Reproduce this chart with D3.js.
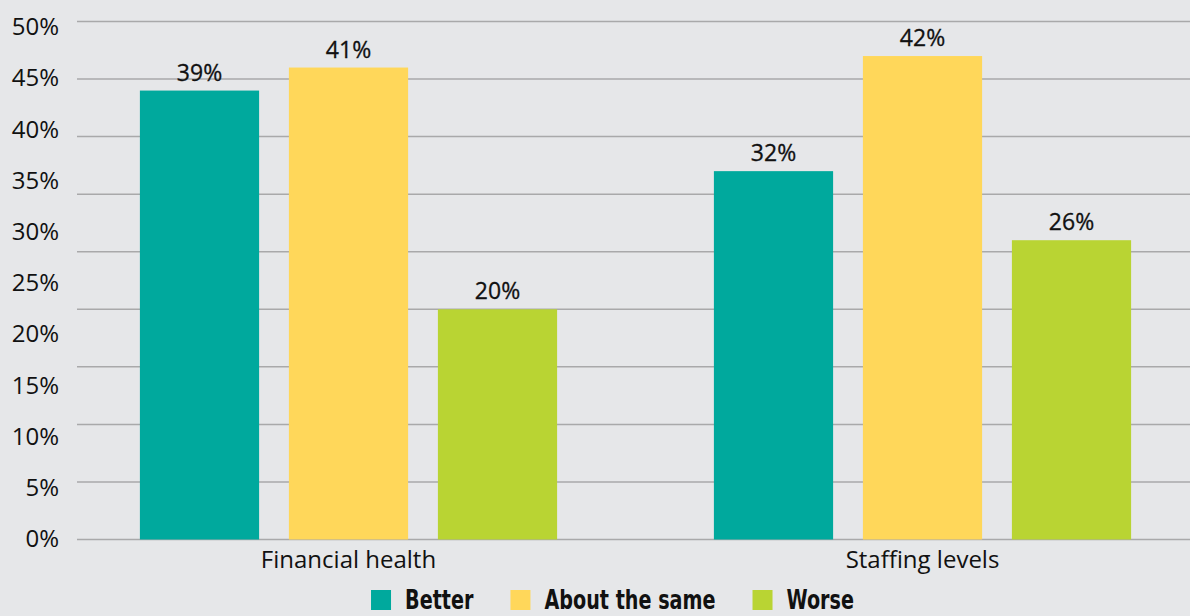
<!DOCTYPE html>
<html>
<head>
<meta charset="utf-8">
<script src="https://cdn.jsdelivr.net/npm/d3@7"></script>
<style>
  html, body { margin: 0; padding: 0; background: #e6e7e9; }
  svg { display: block; }
</style>
</head>
<body>
<svg id="chart" width="1190" height="616"></svg>
<script>
// Survey results: share of respondents by outlook
const categories = ["Financial health", "Staffing levels"];
const seriesNames = ["Better", "About the same", "Worse"];
const better = [39, 32];          // Financial health, Staffing levels
const aboutSame = [41, 42];
const worse = [20, 26];
const tickLabels = ["0%", "5%", "10%", "15%", "20%", "25%", "30%", "35%", "40%", "45%", "50%"];
const gridValues = [0, 5, 10, 15, 20, 25, 30, 35, 40, 45];
const colors = ["#00a99d", "#ffd75a", "#b9d433"];

const seriesValues = [better, aboutSame, worse];

const W = 1190, H = 616;
const svg = d3.select("#chart");

svg.append("rect").attr("width", W).attr("height", H).attr("fill", "#e6e7e9");

// Bar value scale and gridlines
const y = d3.scaleLinear().domain([0, 45]).range([539.5, 21.5]);
// Column of percentage labels on the left
const yLabel = d3.scaleLinear().domain([0, 50]).range([539, 26.7]);

const x0 = d3.scaleBand().domain(categories).range([61.5, 1209.5]);
const x1 = d3.scaleBand().domain(seriesNames)
  .range([-223.5, 223.5]).paddingInner(0.2).paddingOuter(0.1);

// Gridlines
svg.append("g").selectAll("line")
  .data(gridValues)
  .join("line")
  .attr("x1", 77).attr("x2", W)
  .attr("y1", d => y(d)).attr("y2", d => y(d))
  .attr("stroke", "#a9a9aa").attr("stroke-width", 1.5);

// Left labels
svg.append("g").selectAll("text")
  .data(tickLabels)
  .join("text")
  .attr("x", 59)
  .attr("y", (d, i) => yLabel(i * 5))
  .attr("dy", "0.35em")
  .attr("text-anchor", "end")
  .attr("font-family", "'Open Sans', 'Noto Sans', sans-serif")
  .attr("font-size", 24)
  .attr("fill", "#111")
  .text(d => d);

// Bars
const rows = [];
categories.forEach((c, ci) => {
  seriesNames.forEach((s, si) => {
    rows.push({ cat: c, series: s, value: seriesValues[si][ci], color: colors[si] });
  });
});

const gBars = svg.append("g");
gBars.selectAll("rect")
  .data(rows)
  .join("rect")
  .attr("x", d => x0(d.cat) + x0.bandwidth() / 2 + x1(d.series))
  .attr("width", x1.bandwidth())
  .attr("y", d => y(d.value))
  .attr("height", d => y(0) - y(d.value))
  .attr("fill", d => d.color);

// Value labels (medium weight via a thin outline)
gBars.selectAll("text")
  .data(rows)
  .join("text")
  .attr("x", d => x0(d.cat) + x0.bandwidth() / 2 + x1(d.series) + x1.bandwidth() / 2)
  .attr("y", d => y(d.value) - 10)
  .attr("text-anchor", "middle")
  .attr("font-family", "'Open Sans', 'Noto Sans', sans-serif")
  .attr("font-size", 23)
  .attr("fill", "#111")
  .attr("stroke", "#111")
  .attr("stroke-width", 0.3)
  .text(d => d.value + "%");

// Category labels
svg.append("g").selectAll("text")
  .data(categories)
  .join("text")
  .attr("x", d => x0(d) + x0.bandwidth() / 2)
  .attr("y", 568)
  .attr("text-anchor", "middle")
  .attr("font-family", "'Open Sans', 'Noto Sans', sans-serif")
  .attr("font-size", 24)
  .attr("fill", "#111")
  .text(d => d);

// Legend: swatch + condensed bold label
const squeeze = 0.82;
const legend = svg.append("g");
const items = legend.selectAll("g")
  .data(seriesNames)
  .join("g");
items.append("rect")
  .attr("width", 20).attr("height", 20)
  .attr("y", 590)
  .attr("fill", (d, i) => colors[i]);
items.append("text")
  .attr("transform", `translate(34,609) scale(${squeeze},1)`)
  .attr("font-family", "'DejaVu Sans Condensed', 'DejaVu Sans', sans-serif")
  .attr("font-weight", 700)
  .attr("font-size", 26)
  .attr("fill", "#111")
  .text(d => d);

let offsets = [], cursor = 0;
items.each(function () {
  offsets.push(cursor);
  const tw = d3.select(this).select("text").node().getComputedTextLength() * squeeze;
  cursor += 34 + tw + 37;
});
const totalW = cursor - 37;
const startX = 612.5 - totalW / 2;
items.attr("transform", (d, i) => `translate(${startX + offsets[i]},0)`);
</script>
</body>
</html>
